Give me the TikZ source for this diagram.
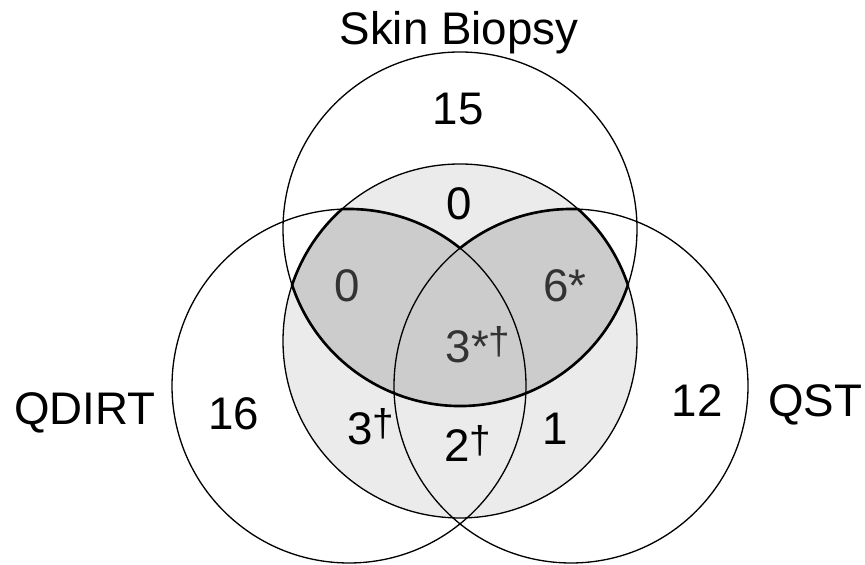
\documentclass[tikz,border=0pt]{standalone}
\usepackage{fontspec}
\setmainfont{Liberation Sans}
\usepackage{tikz}
\usetikzlibrary{calc,positioning}
\definecolor{vnlight}{RGB}{235,235,235}
\definecolor{vndark}{RGB}{204,204,204}
\def\circrad{3.54}
\newcommand{\dg}{\raisebox{5pt}{\fontsize{22}{22}\selectfont †}}

\begin{document}
\begin{tikzpicture}[
    set/.style={draw, line width=0.75pt},
    lbl/.style={anchor=base, inner sep=0pt, font=\fontsize{26}{30}\selectfont},
    dim/.style={lbl, text=black!80}]
  \useasboundingbox (0,0) rectangle (17.3,11.3);
  \coordinate (sb) at (9.2,6.72);
  \coordinate (mid) at (9.2,4.48);
  \coordinate (qd) at (6.98,3.58);
  \coordinate (qs) at (11.42,3.58);
  % shading
  \fill[vnlight] (mid) circle (\circrad);
  \fill[vndark] ($(qd)+(51.17:\circrad)$)
    arc[start angle=51.17, end angle=92.29, radius=\circrad]
    arc[start angle=131.85, end angle=161.56, radius=\circrad]
    arc[start angle=198.44, end angle=341.56, radius=\circrad]
    arc[start angle=18.44, end angle=48.15, radius=\circrad]
    arc[start angle=87.71, end angle=128.83, radius=\circrad] -- cycle;
  % circles
  \draw[set] (sb) circle (\circrad);
  \draw[set] (mid) circle (\circrad);
  \draw[set] (qd) circle (\circrad);
  \draw[set] (qs) circle (\circrad);
  \draw[line width=1.5pt] ($(qd)+(51.17:\circrad)$)
    arc[start angle=51.17, end angle=92.29, radius=\circrad]
    arc[start angle=131.85, end angle=161.56, radius=\circrad]
    arc[start angle=198.44, end angle=341.56, radius=\circrad]
    arc[start angle=18.44, end angle=48.15, radius=\circrad]
    arc[start angle=87.71, end angle=128.83, radius=\circrad] -- cycle;
  % labels
  \node[lbl] (sbname) at (9.18,10.4) {Skin Biopsy};
  \node[lbl] (qdname) at (1.7,2.8) {QDIRT};
  \node[lbl] (qsname) at (16.3,2.96) {QST};
  \node[lbl] (sbonly) at (9.16,8.8) {15};
  \node[lbl] (qdonly) at (4.68,2.7) {16};
  \node[lbl] (qsonly) at (13.94,2.96) {12};
  \node[lbl] (midtop) at (9.18,6.9) {0};
  \node[dim] (sbqd) at (6.94,5.26) {0};
  \node[dim] (sbqs) at (11.3,5.26) {6*};
  \node[dim] (all) at (9.56,4.04) {3*\dg};
  \node[lbl] (midqd) at (7.42,2.4) {3\dg};
  \node[lbl] (qdqs) at (9.36,2.06) {2\dg};
  \node[lbl] (midqs) at (11.1,2.4) {1};
\end{tikzpicture}
\end{document}
